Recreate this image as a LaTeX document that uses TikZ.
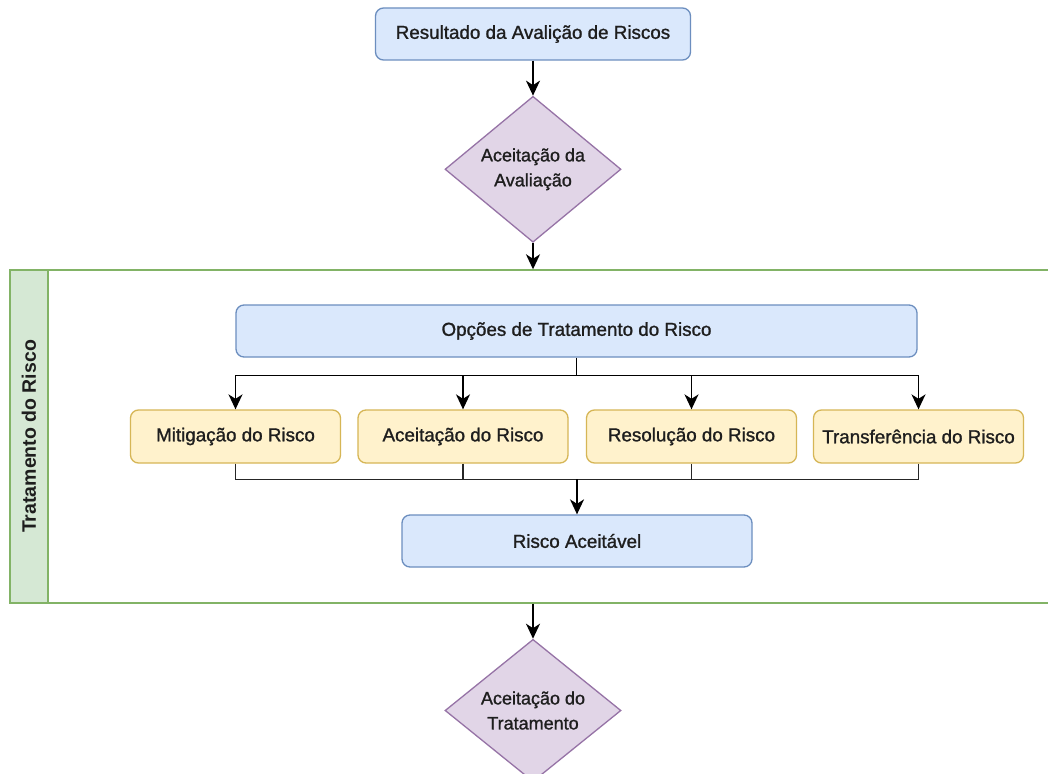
\documentclass[tikz,border=0pt]{standalone}
\usepackage{fontspec}
\setmainfont{Liberation Sans}
\newfontfamily\boxfont{Liberation Sans}[FakeBold=1.2]
\usepackage{tikz}
\usetikzlibrary{shapes.geometric, arrows.meta, positioning, calc}
\definecolor{blueFill}{HTML}{DAE8FC}
\definecolor{blueLine}{HTML}{6C8EBF}
\definecolor{yellowFill}{HTML}{FFF2CC}
\definecolor{yellowLine}{HTML}{D6B656}
\definecolor{purpleFill}{HTML}{E1D5E7}
\definecolor{purpleLine}{HTML}{9673A6}
\definecolor{greenFill}{HTML}{D5E8D4}
\definecolor{greenLine}{HTML}{82B366}
\definecolor{textdark}{HTML}{1E1E1E}
\tikzstyle{process} = [
  rectangle, rounded corners=8pt, minimum height=52pt,
  draw=blueLine, line width=1.3pt,
  fill=blueFill, font=\boxfont\fontsize{18.8}{22}\selectfont, text=textdark
]
\tikzstyle{option} = [
  rectangle, rounded corners=8pt, minimum width=210pt, minimum height=53pt,
  draw=yellowLine, line width=1.3pt,
  fill=yellowFill, font=\boxfont\fontsize{18.8}{22}\selectfont, text=textdark
]
\tikzstyle{decision} = [
  diamond, minimum width=176pt, minimum height=138pt, inner sep=0pt,
  draw=purpleLine, line width=1.3pt, align=center,
  fill=purpleFill, font=\boxfont\fontsize{18}{25}\selectfont, text=textdark
]
\tikzstyle{flowarrow} = [
  -{Stealth[length=15pt, width=14pt, inset=4.5pt]}, line width=1.6pt, color=black
]
\tikzstyle{flowline} = [
  line width=1.6pt, color=black!85
]

\begin{document}
\begin{tikzpicture}[x=1pt, y=1pt]

  \useasboundingbox[fill=white] (0,0) rectangle (1048,-773);

  % ── Evaluation ────────────────────────────────────────
  \node[process, minimum width=315pt] at (533,-34) (result)
    {Resultado da Avalição de Riscos};
  \node[decision, below=35pt of result] (evalok)
    {Aceitação da\\Avaliação};

  % ── Swimlane ──────────────────────────────────────────
  \node[draw=greenLine, line width=1.4pt, minimum width=1042pt,
        minimum height=333pt, inner sep=0pt] at (531,-436.5) (lane) {};
  \node[draw=greenLine, line width=1.4pt, fill=greenFill,
        minimum width=38pt, minimum height=333pt, inner sep=0pt]
    at (29,-436.5) (lanehead) {};
  \node[rotate=90, font=\fontsize{19.5}{22}\selectfont\bfseries, text=textdark]
    at (lanehead) (lanetitle) {Tratamento do Risco};

  % ── Treatment options ─────────────────────────────────
  \node[process, minimum width=681pt] at (576.5,-331) (options)
    {Opções de Tratamento do Risco};

  \node[option] at (235.5,-436.5) (mitigation)   {Mitigação do Risco};
  \node[option] at (463,-436.5)   (acceptance)   {Aceitação do Risco};
  \node[option] at (691.5,-436.5) (resolution)   {Resolução do Risco};
  \node[option] at (918.5,-436.5) (transference) {Transferência do Risco};

  \node[process, minimum width=350pt] at (577,-541) (acceptable)
    {Risco Aceitável};

  % ── Treatment acceptance ──────────────────────────────
  \node[decision, below=35pt of lane.south -| evalok] (treatok)
    {Aceitação do\\Tratamento};

  % ── Arrows ────────────────────────────────────────────
  \coordinate (split) at ($(options.south)+(0,-18)$);
  \coordinate (merge) at ($(acceptable.north)+(0,35)$);

  \draw[flowarrow] (result) -- (evalok);
  \draw[flowarrow] (evalok) -- (evalok |- lane.north);

  \draw[flowarrow] (options.south) -- (split) -| (mitigation.north);
  \draw[flowarrow] (split) -| (acceptance.north);
  \draw[flowarrow] (split) -| (resolution.north);
  \draw[flowarrow] (split) -| (transference.north);

  \draw[flowline] (mitigation.south) |- (merge);
  \draw[flowline] (acceptance.south) |- (merge);
  \draw[flowline] (resolution.south) |- (merge);
  \draw[flowline] (transference.south) |- (merge);
  \draw[flowarrow] (merge) -- (acceptable.north);

  \draw[flowarrow] (evalok |- lane.south) -- (treatok);

\end{tikzpicture}
\end{document}
